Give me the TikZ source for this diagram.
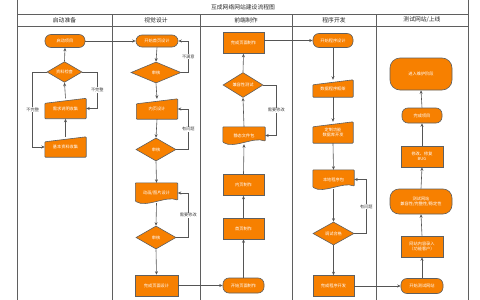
\documentclass[tikz,border=0pt]{standalone}
\usepackage{fontspec}
\newfontfamily\cjk{Noto Sans CJK SC}
\usetikzlibrary{shapes.geometric,arrows.meta,calc,backgrounds}
\definecolor{org}{RGB}{247,128,0}
\definecolor{edge}{RGB}{95,95,95}
\definecolor{ln}{RGB}{85,85,85}
\tikzset{
 base/.style={font=\cjk\fontsize{4.2}{5}\selectfont, text=white, align=center, inner sep=0pt},
 proc/.style={base, rectangle, draw=edge, fill=org, line width=0.6pt, minimum width=41pt, minimum height=21pt},
 term/.style={base, rectangle, rounded corners=6pt, draw=edge, fill=org, line width=0.6pt, minimum width=41pt, minimum height=14pt},
 dec/.style={base, diamond, draw=edge, fill=org, line width=0.6pt, minimum width=40pt, minimum height=23pt},
 mi/.style={base, minimum width=41pt, minimum height=20pt},
 doc/.style={base, minimum width=42pt, minimum height=20pt},
 shp/.style={draw=edge, fill=org, line width=0.6pt, rounded corners=0.8pt},
 conn/.style={draw=ln, line width=0.6pt, -{Stealth[length=3.5pt,width=3pt]}},
 lbl/.style={font=\cjk\fontsize{4.2}{5}\selectfont, fill=white, inner sep=0.8pt, text=black!75},
 lane/.style={draw=edge, line width=0.7pt},
 hdr/.style={font=\cjk\fontsize{5.8}{7}\selectfont, text=black!85}
}
\begin{document}
\begin{tikzpicture}[x=1pt,y=-1pt]
\useasboundingbox (0,0) rectangle (480,300);
% frame and lanes
\draw[lane] (17,0) -- (17,300);
\draw[lane] (468,0) -- (468,300);
\draw[lane] (17,14) -- (468,14);
\draw[lane] (17,26) -- (468,26);
\foreach \xx in {112,200,292,376} \draw[lane] (\xx,14) -- (\xx,300);
\node[hdr] (title) at (243,7) {互成网络网站建设流程图};
\node[hdr] (h1) at (64.5,20) {启动准备};
\node[hdr] (h2) at (156,20) {视觉设计};
\node[hdr] (h3) at (246,20) {前端制作};
\node[hdr] (h4) at (334,20) {程序开发};
\node[hdr] (h5) at (422,20) {测试网站/上线};
% lane 1
\node[term, minimum width=40pt, minimum height=13pt] (qd) at (65,41) {启动项目};
\node[dec, minimum width=35pt, minimum height=20pt] (zljc) at (64.5,72) {资料检查};
\node[mi] (xq) at (65.5,108.5) {需求说明收集};
\node[mi] (jb) at (65.5,147) {基本资料收集};
% lane 2
\node[term, minimum width=42pt, minimum height=12pt] (ksy) at (157,41) {开始首页设计};
\node[dec, minimum width=50pt, minimum height=21pt] (sh1) at (156,72.5) {审核};
\node[mi] (ny) at (157,109) {内页设计};
\node[dec] (sh2) at (156,149.5) {审核};
\node[doc] (dh) at (156.5,193) {动画/图片设计};
\node[dec] (sh3) at (156,237.5) {审核};
\node[proc, minimum width=43pt] (wcsj) at (156.5,285.5) {完成页面设计};
% lane 3
\node[proc] (wczz) at (243.5,43) {完成页面制作};
\node[dec] (jr) at (243,85) {兼容性测试};
\node[doc, minimum height=17pt] (jt) at (244,135.5) {静态文件包};
\node[proc] (nyzz) at (243.5,185) {内页制作};
\node[proc] (syzz) at (243.5,228.5) {首页制作};
\node[term, minimum height=15pt] (kszz) at (243.5,285.5) {开始页面制作};
% lane 4
\node[term, minimum width=40pt, minimum height=14pt] (kscx) at (333,40.5) {开始程序设计};
\node[mi, minimum width=40pt, minimum height=17pt] (sj) at (333,88.5) {数据程序框架};
\node[mi, minimum width=40pt, minimum height=21pt] (dz) at (333,132.5) {定制功能\\数据库开发};
\node[doc, minimum width=41pt, minimum height=19pt] (bd) at (333.5,179.5) {本地程序包};
\node[dec, minimum width=41pt, minimum height=23pt] (ts) at (333.5,233.5) {调试合格};
\node[proc] (wccx) at (333.5,286) {完成程序开发};
% lane 5
\node[term, minimum width=62pt, minimum height=32pt, rounded corners=10pt] (jrwh) at (421,74) {进入维护阶段};
\node[term, minimum width=40pt, minimum height=15pt] (wcxm) at (422,115.5) {完成项目};
\node[proc, minimum width=42pt] (xg) at (422,156.5) {修改、修复\\BUG};
\node[term, minimum width=62pt, minimum height=25pt, rounded corners=9pt] (cswz) at (421,201.5) {测试网站\\兼容性/完整性/稳定性};
\node[proc, minimum width=42pt] (lr) at (422,246.5) {网站内容录入\\（功能客户）};
\node[term, minimum width=42pt, minimum height=15pt] (kscs) at (422,286) {开始测试网站};
% custom shapes behind text
\begin{scope}[on background layer]
\fill[white] (0,0) rectangle (480,300);
\foreach \n in {xq,jb,ny,sj,dz}
  \path[shp] (\n.south west) -- (\n.south east) -- (\n.north east) -- ($(\n.north west)+(0,5)$) -- cycle;
\foreach \n in {dh,jt,bd}
  \path[shp] ($(\n.south west)+(0,-2)$) -- (\n.north west) -- (\n.north east) -- ($(\n.south east)+(0,-3)$) .. controls ($(\n.south)+(10,-8)$) and ($(\n.south)+(-10,5)$) .. ($(\n.south west)+(0,-2)$) -- cycle;
\end{scope}
% connectors lane 1
\draw[conn] (jb.north) -- (xq.south);
\draw[conn] (xq.north) -- (zljc.south);
\draw[conn] (zljc.north) -- (qd.south);
\draw[conn] (zljc.east) -- ++(15,0) |- (xq.east) node[lbl,pos=0.25]{不完整};
\draw[conn] (zljc.west) -- ++(-14,0) |- (jb.west) node[lbl,pos=0.25]{不完整};
\draw[conn] (qd.east) -- (ksy.west);
% lane 2
\draw[conn] (ksy.south) -- (sh1.north);
\draw[conn] (sh1.south) -- (ny.north);
\draw[conn] (ny.south) -- (sh2.north);
\draw[conn] (sh2.south) -- (dh.north);
\draw[conn] (dh.south) -- (sh3.north);
\draw[conn] (sh3.south) -- (wcsj.north);
\draw[conn] (sh1.east) -- ++(7,0) |- (ksy.east) node[lbl,pos=0.25]{不满意};
\draw[conn] (sh2.east) -- ++(12,0) |- (ny.east) node[lbl,pos=0.25]{有问题};
\draw[conn] (sh3.east) -- ++(12,0) |- (dh.east) node[lbl,pos=0.25]{需要修改};
\draw[conn] (wcsj.east) -- (kszz.west);
% lane 3
\draw[conn] (kszz.north) -- (syzz.south);
\draw[conn] (syzz.north) -- (nyzz.south);
\draw[conn] (nyzz.north) -- (jt.south);
\draw[conn] (jt.north) -- (jr.south);
\draw[conn] (jr.north) -- (wczz.south);
\draw[conn] (jr.east) -- ++(13,0) |- (jt.east) node[lbl,pos=0.25]{需要修改};
\draw[conn] (wczz.east |- kscx.west) -- (kscx.west);
% lane 4
\draw[conn] (kscx.south) -- (sj.north);
\draw[conn] (sj.south) -- (dz.north);
\draw[conn] (dz.south) -- (bd.north);
\draw[conn] (bd.south) -- (ts.north);
\draw[conn] (ts.south) -- (wccx.north);
\draw[conn] (ts.east) -- ++(12,0) |- (bd.east) node[lbl,pos=0.25]{有问题};
\draw[conn] (wccx.east) -- (kscs.west);
% lane 5
\draw[conn] (kscs.north) -- (lr.south);
\draw[conn] (lr.north) -- (cswz.south);
\draw[conn] (cswz.north) -- (xg.south);
\draw[conn] (xg.north) -- (wcxm.south);
\draw[conn] (wcxm.north) -- (jrwh.south);
\end{tikzpicture}
\end{document}
